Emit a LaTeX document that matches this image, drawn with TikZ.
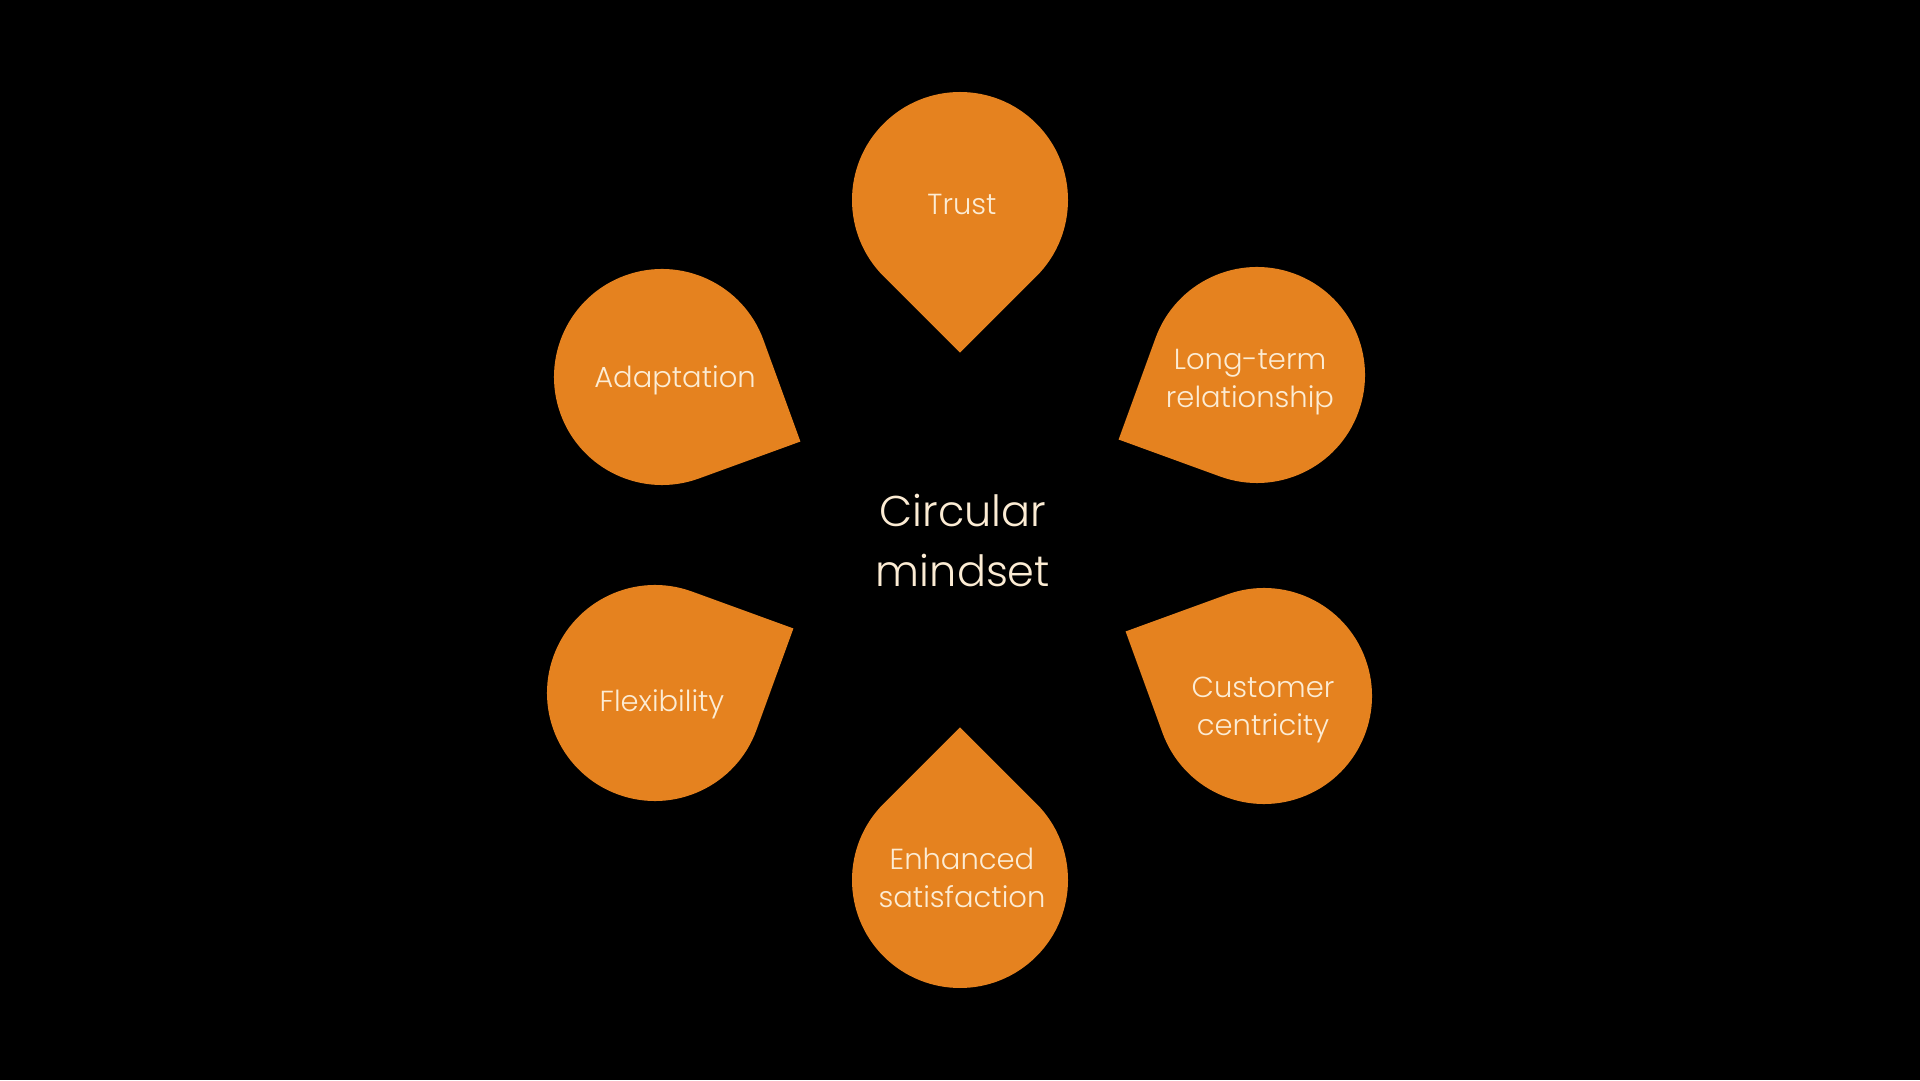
\documentclass[tikz,border=0pt]{standalone}
\usepackage{fontspec}
\setmainfont{Poppins}[UprightFont=* Light]
\usetikzlibrary{calc}
\definecolor{petalorange}{RGB}{229,130,31}
\definecolor{cream}{RGB}{252,236,212}
\newcommand{\mypetal}[6]{%
  \fill[petalorange] ($(#2,#3)+(#4+45:108pt)$) arc[start angle=#4+45, delta angle=270, radius=108pt] -- ($(#2,#3)+(#4:152.7pt)$) -- cycle;
  \node[petaltext] (#1) at (#5) {#6};
}
\tikzset{
  petaltext/.style={text=cream, align=center, font=\fontsize{29pt}{38pt}\selectfont, inner sep=0pt},
  centertext/.style={text=cream, align=center, font=\fontsize{43pt}{60pt}\selectfont, inner sep=0pt}
}
\begin{document}
\begin{tikzpicture}[x=1pt,y=1pt]
\fill[black] (0,0) rectangle (1920,1080);
\useasboundingbox (0,0) rectangle (1920,1080);
\mypetal{trust}{960}{880}{-90}{962,875}{Trust}
\mypetal{longterm}{1257}{705}{205}{1250,698}{Long-term\\relationship}
\mypetal{customer}{1264}{384}{155}{1263,370}{Customer\\centricity}
\mypetal{enhanced}{960}{200}{90}{962,202}{Enhanced\\satisfaction}
\mypetal{flex}{655}{387}{25}{662,376}{Flexibility}
\mypetal{adapt}{662}{703}{-25}{675,700}{Adaptation}
\node[centertext] (center) at (963,539) {Circular\\mindset};
\end{tikzpicture}
\end{document}
